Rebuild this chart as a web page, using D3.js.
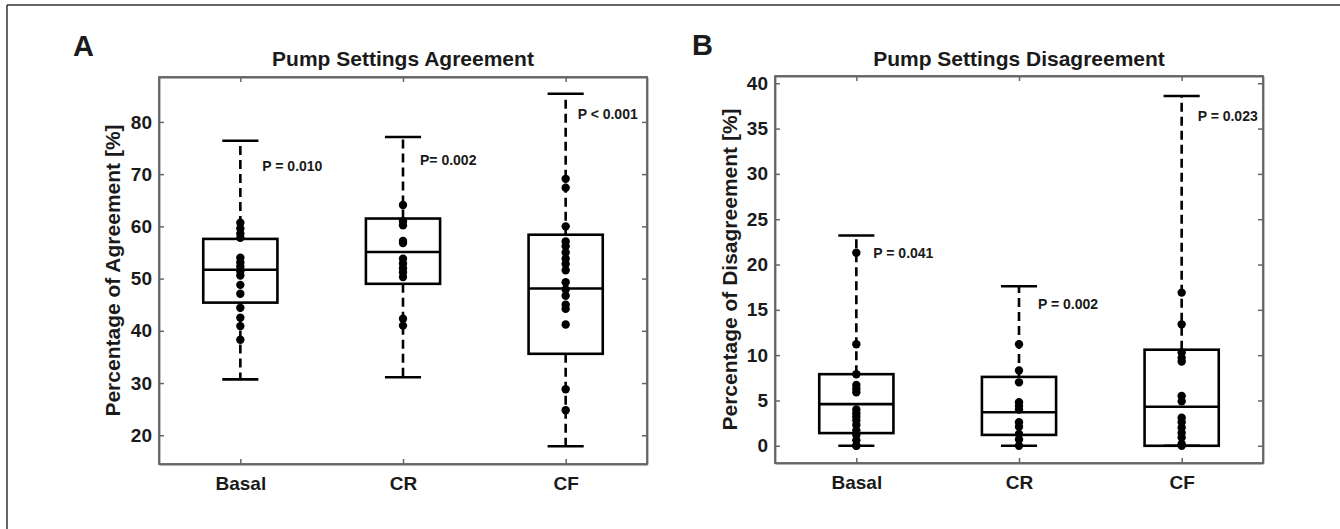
<!DOCTYPE html>
<html>
<head>
<meta charset="utf-8">
<script src="https://cdn.jsdelivr.net/npm/d3@7"></script>
<style>
  html, body { margin: 0; padding: 0; background: #fff; }
  svg { display: block; }
  text { font-family: "Liberation Sans", Arial, sans-serif; font-weight: bold; fill: #1a1a1a; }
</style>
</head>
<body>
<svg id="chart" width="1340" height="529"></svg>
<script>
// ---------- DATA ----------
const categories = ["Basal", "CR", "CF"];

// Panel A: Pump Settings Agreement (%)
const agreeTicks = [20, 30, 40, 50, 60, 70, 80];
const agreeQ1      = [45.4, 49.0, 35.6];
const agreeMedian  = [51.7, 55.1, 48.1];
const agreeQ3      = [57.6, 61.5, 58.4];
const agreeLowW    = [30.7, 31.1, 17.9];
const agreeHighW   = [76.4, 77.1, 85.4];
const agreeBasalPts = [60.7, 59.6, 58.6, 57.8, 54.0, 53.1, 52.3, 51.4, 50.6, 48.8, 47.1, 44.4, 42.5, 40.9, 38.3];
const agreeCRPts    = [64.1, 61.0, 60.2, 57.2, 56.8, 53.8, 52.9, 52.0, 51.2, 50.3, 42.3, 41.0];
const agreeCFPts    = [69.1, 67.4, 60.0, 57.1, 56.2, 55.0, 53.8, 52.8, 51.6, 49.3, 47.9, 46.7, 45.0, 44.2, 41.2, 28.8, 24.8];
const agreePLabels  = ["P = 0.010", "P= 0.002", "P < 0.001"];
const agreePValuesAt = [71.6, 72.7, 81.5];

// Panel B: Pump Settings Disagreement (%)
const disTicks = [0, 5, 10, 15, 20, 25, 30, 35, 40];
const disQ1      = [1.4, 1.2, 0.0];
const disMedian  = [4.6, 3.7, 4.3];
const disQ3      = [7.9, 7.6, 10.6];
const disLowW    = [0.0, 0.0, 0.0];
const disHighW   = [23.2, 17.6, 38.6];
const disBasalPts = [21.3, 11.2, 7.9, 6.7, 6.3, 5.9, 4.0, 3.6, 3.2, 2.8, 2.3, 1.7, 1.2, 0.6, 0.0, 0.0];
const disCRPts    = [11.2, 8.3, 7.0, 4.8, 4.4, 4.0, 2.6, 2.1, 1.3, 0.7, 0.0];
const disCFPts    = [16.9, 13.4, 10.3, 9.7, 9.3, 5.5, 4.9, 3.1, 2.6, 2.0, 1.4, 0.9, 0.2, 0.0];
const disPLabels  = ["P = 0.041", "P = 0.002", "P = 0.023"];
const disPValuesAt = [21.3, 15.6, 36.4];

// ---------- DRAW ----------
const svg = d3.select("#chart");

// outer frame (top and left edges)
svg.append("line").attr("x1", 7).attr("y1", 5).attr("x2", 1340).attr("y2", 5)
  .attr("stroke", "#333").attr("stroke-width", 1.5);
svg.append("line").attr("x1", 7).attr("y1", 5).attr("x2", 7).attr("y2", 529)
  .attr("stroke", "#333").attr("stroke-width", 1.5);

function panel(cfg) {
  const { left, top, right, bottom, domain, ticks, q1, med, q3, lowW, highW, pts,
          pLabels, pAt, pDx, title, ylabel, ylabelX, letter, letterX, letterY } = cfg;
  const g = svg.append("g");
  const x = d3.scalePoint().domain(categories).range([left, right]).padding(0.5);
  const y = d3.scaleLinear().domain(domain).range([bottom, top]);
  const step = x.step();
  const boxHalf = step * 0.228;
  const capHalf = step * 0.111;

  // axes (ticks pointing inward, MATLAB style)
  const axisStyle = sel => {
    sel.select(".domain").attr("stroke", "#666").attr("stroke-width", 1.8);
    sel.selectAll(".tick line").attr("stroke", "#666").attr("stroke-width", 1.5);
    sel.selectAll(".tick text").style("font-size", "19px").style("font-family", "'Liberation Sans', Arial, sans-serif")
      .style("font-weight", "bold").attr("fill", "#1a1a1a");
  };
  g.append("g").attr("transform", `translate(${left},0)`)
    .call(d3.axisLeft(y).tickValues(ticks).tickSizeInner(-5).tickSizeOuter(0).tickPadding(7))
    .call(axisStyle);
  g.append("g").attr("transform", `translate(${right},0)`)
    .call(d3.axisRight(y).tickValues(ticks).tickSizeInner(-5).tickSizeOuter(0).tickFormat(""))
    .call(axisStyle);
  g.append("g").attr("transform", `translate(0,${bottom})`)
    .call(d3.axisBottom(x).tickSizeInner(-5).tickSizeOuter(0).tickPadding(13))
    .call(axisStyle);
  g.append("g").attr("transform", `translate(0,${top})`)
    .call(d3.axisTop(x).tickSizeInner(-5).tickSizeOuter(0).tickFormat(""))
    .call(axisStyle);
  // close the frame ends
  g.append("rect").attr("x", left).attr("y", top).attr("width", right - left).attr("height", bottom - top)
    .attr("fill", "none").attr("stroke", "#666").attr("stroke-width", 1.8);

  categories.forEach((c, i) => {
    const cx = x(c);
    // whiskers (dashed)
    g.append("line").attr("x1", cx).attr("x2", cx).attr("y1", y(q3[i])).attr("y2", y(highW[i]))
      .attr("stroke", "#000").attr("stroke-width", 2.6).attr("stroke-dasharray", "9,5");
    g.append("line").attr("x1", cx).attr("x2", cx).attr("y1", y(q1[i])).attr("y2", y(lowW[i]))
      .attr("stroke", "#000").attr("stroke-width", 2.6).attr("stroke-dasharray", "9,5");
    // caps
    [highW[i], lowW[i]].forEach(v => {
      g.append("line").attr("x1", cx - capHalf).attr("x2", cx + capHalf).attr("y1", y(v)).attr("y2", y(v))
        .attr("stroke", "#000").attr("stroke-width", 2.6);
    });
    // box
    g.append("rect").attr("x", cx - boxHalf).attr("width", 2 * boxHalf)
      .attr("y", y(q3[i])).attr("height", y(q1[i]) - y(q3[i]))
      .attr("fill", "none").attr("stroke", "#000").attr("stroke-width", 2.6);
    g.append("line").attr("x1", cx - boxHalf).attr("x2", cx + boxHalf).attr("y1", y(med[i])).attr("y2", y(med[i]))
      .attr("stroke", "#000").attr("stroke-width", 2.6);
    // points
    g.selectAll(null).data(pts[i]).enter().append("circle")
      .attr("cx", cx).attr("cy", d => y(d)).attr("r", 4.2).attr("fill", "#000");
    // p-value label
    g.append("text").attr("x", cx + pDx[i]).attr("y", y(pAt[i])).attr("dy", "0.35em")
      .style("font-size", "14px").text(pLabels[i]);
  });

  // title
  g.append("text").attr("x", (left + right) / 2).attr("y", 66).attr("text-anchor", "middle")
    .style("font-size", "21px").text(title);
  // y label
  g.append("text").attr("transform", `translate(${ylabelX},${(top + bottom) / 2}) rotate(-90)`)
    .attr("text-anchor", "middle").style("font-size", "21px").text(ylabel);
  // panel letter
  g.append("text").attr("x", letterX).attr("y", letterY).style("font-size", "29px").text(letter);
}

panel({
  left: 159, right: 647, top: 77, bottom: 464,
  domain: [14.5, 88.6], ticks: agreeTicks,
  q1: agreeQ1, med: agreeMedian, q3: agreeQ3, lowW: agreeLowW, highW: agreeHighW,
  pts: [agreeBasalPts, agreeCRPts, agreeCFPts],
  pLabels: agreePLabels, pAt: agreePValuesAt, pDx: [22, 17, 12],
  title: "Pump Settings Agreement", ylabel: "Percentage of Agreement [%]", ylabelX: 120,
  letter: "A", letterX: 73, letterY: 56
});

panel({
  left: 775, right: 1263, top: 76, bottom: 463,
  domain: [-1.9, 40.8], ticks: disTicks,
  q1: disQ1, med: disMedian, q3: disQ3, lowW: disLowW, highW: disHighW,
  pts: [disBasalPts, disCRPts, disCFPts],
  pLabels: disPLabels, pAt: disPValuesAt, pDx: [17, 19, 16],
  title: "Pump Settings Disagreement", ylabel: "Percentage of Disagreement [%]", ylabelX: 737,
  letter: "B", letterX: 692, letterY: 55
});
</script>
</body>
</html>
